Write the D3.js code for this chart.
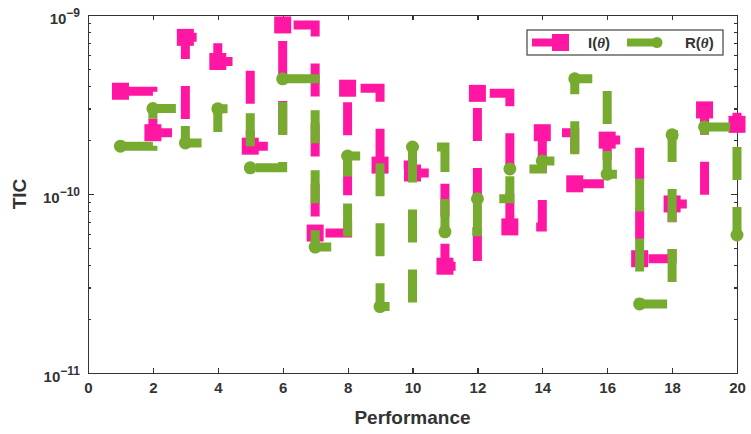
<!DOCTYPE html>
<html>
<meta charset="utf-8">
<title>TIC vs Performance</title>
<style>
  html, body {
    margin: 0;
    padding: 0;
    background: #fff;
}

svg text {
    font-family: "Liberation Sans", Arial, sans-serif;
    font-weight: bold;
    fill: #333;
}

.axis path, .axis line {
    stroke: #333;
    stroke-width: 1.2;
    shape-rendering: crispEdges;
}

.series {
    fill: none;
    stroke-width: 9;
    stroke-dasharray: 33, 27;
    stroke-linecap: butt;
    stroke-linejoin: miter;
}
</style>

<body>
    <div id="chart"></div>
    <script src="https://cdn.jsdelivr.net/npm/d3@7"></script>
    <script>
    // values
    var performance = [1, 2, 3, 4, 5, 6, 7, 8, 9, 10, 11, 12, 13, 14, 15, 16, 17, 18, 19, 20];
    var iTheta = [3.75e-10, 2.2e-10, 7.5e-10, 5.5e-10, 1.85e-10, 8.8e-10, 6.05e-11, 3.9e-10, 1.45e-10, 1.31e-10,
                  3.95e-11, 3.65e-10, 6.55e-11, 2.2e-10, 1.14e-10, 2.0e-10, 4.35e-11, 8.8e-11, 2.95e-10, 2.45e-10];
    var rTheta = [1.85e-10, 3.0e-10, 1.93e-10, 2.99e-10, 1.4e-10, 4.4e-10, 5.05e-11, 1.63e-10, 2.35e-11, 1.83e-10,
                  6.15e-11, 9.4e-11, 1.38e-10, 1.53e-10, 4.4e-10, 1.29e-10, 2.43e-11, 2.14e-10, 2.37e-10, 5.9e-11];
    var xTicks = [0, 2, 4, 6, 8, 10, 12, 14, 16, 18, 20];
    var yMajor = [1e-11, 1e-10, 1e-9];
    var yLabels = ["-11", "-10", "-9"];

    var pink = "#ff17a3",
        green = "#77ab30";

    var width = 751,
        height = 434;
    var margin = {top: 15, right: 14, bottom: 61, left: 88};
    var innerW = width - margin.left - margin.right,
        innerH = height - margin.top - margin.bottom;

    var svg = d3.select("#chart").append("svg")
        .attr("width", width)
        .attr("height", height);

    var g = svg.append("g")
        .attr("transform", "translate(" + margin.left + "," + margin.top + ")");

    var x = d3.scaleLinear().domain([0, 20]).range([0, innerW]);
    var y = d3.scaleLog().domain([1e-11, 1e-9]).range([innerH, 0]);

    var yMinor = [];
    [1e-11, 1e-10].forEach(function(d) {
        for (var k = 2; k < 10; k++) yMinor.push(d * k);
    });

    // axes (box, ticks inward)
    g.append("g").attr("class", "axis")
        .attr("transform", "translate(0," + innerH + ")")
        .call(d3.axisBottom(x).tickValues(xTicks).tickSizeInner(-5).tickSizeOuter(0).tickPadding(9))
        .selectAll("text").style("font-size", "15px").attr("fill", "#333");

    g.append("g").attr("class", "axis")
        .call(d3.axisTop(x).tickValues(xTicks).tickSizeInner(-5).tickSizeOuter(0).tickFormat(""));

    g.append("g").attr("class", "axis")
        .call(d3.axisLeft(y).tickValues(yMajor).tickSizeInner(-6).tickSizeOuter(0).tickFormat(""));
    g.append("g").attr("class", "axis")
        .call(d3.axisLeft(y).tickValues(yMinor).tickSizeInner(-3).tickSizeOuter(0).tickFormat(""))
        .select(".domain").remove();

    g.append("g").attr("class", "axis")
        .attr("transform", "translate(" + innerW + ",0)")
        .call(d3.axisRight(y).tickValues(yMajor).tickSizeInner(-6).tickSizeOuter(0).tickFormat(""));
    g.append("g").attr("class", "axis")
        .attr("transform", "translate(" + innerW + ",0)")
        .call(d3.axisRight(y).tickValues(yMinor).tickSizeInner(-3).tickSizeOuter(0).tickFormat(""))
        .select(".domain").remove();

    // y tick labels 10^n
    var ylab = g.append("g").selectAll("text")
        .data(yMajor)
        .enter().append("text")
        .attr("x", -8)
        .attr("y", function(d) { return y(d) + 9; })
        .attr("text-anchor", "end")
        .style("font-size", "15px");
    ylab.append("tspan").text("10");
    ylab.append("tspan")
        .attr("dy", -7)
        .style("font-size", "12px")
        .text(function(d, i) { return yLabels[i].replace("-", "\u2212"); });

    // axis titles
    svg.append("text")
        .attr("x", margin.left + innerW / 2)
        .attr("y", 424)
        .attr("text-anchor", "middle")
        .style("font-size", "19px")
        .text("Performance");

    svg.append("text")
        .attr("transform", "translate(26,194) rotate(-90)")
        .attr("text-anchor", "middle")
        .style("font-size", "19px")
        .text("TIC");

    // series
    var line = d3.line()
        .x(function(d) { return x(d[0]); })
        .y(function(d) { return y(d[1]); })
        .curve(d3.curveStepAfter);

    var iData = d3.zip(performance, iTheta),
        rData = d3.zip(performance, rTheta);

    g.append("path")
        .attr("class", "series")
        .attr("stroke", pink)
        .attr("d", line(iData));

    g.append("g").selectAll("rect")
        .data(iData)
        .enter().append("rect")
        .attr("x", function(d) { return x(d[0]) - 8.5; })
        .attr("y", function(d) { return y(d[1]) - 8.5; })
        .attr("width", 17)
        .attr("height", 17)
        .attr("fill", pink);

    g.append("path")
        .attr("class", "series")
        .attr("stroke", green)
        .attr("d", line(rData));

    g.append("g").selectAll("circle")
        .data(rData)
        .enter().append("circle")
        .attr("cx", function(d) { return x(d[0]); })
        .attr("cy", function(d) { return y(d[1]); })
        .attr("r", 6.5)
        .attr("fill", green);

    // legend
    var leg = svg.append("g").attr("transform", "translate(527,30)");
    leg.append("rect")
        .attr("width", 196)
        .attr("height", 25)
        .attr("fill", "#fff")
        .attr("stroke", "#444")
        .attr("stroke-width", 1.2);

    leg.append("line")
        .attr("x1", 5).attr("x2", 28).attr("y1", 12.5).attr("y2", 12.5)
        .attr("stroke", pink).attr("stroke-width", 8);
    leg.append("rect")
        .attr("x", 25).attr("y", 4).attr("width", 17).attr("height", 17)
        .attr("fill", pink);
    var t1 = leg.append("text").attr("x", 61).attr("y", 18).style("font-size", "15px");
    t1.append("tspan").text("I(");
    t1.append("tspan").style("font-style", "italic").style("font-family", "'Liberation Serif', serif").text("\u03b8");
    t1.append("tspan").text(")");

    leg.append("line")
        .attr("x1", 100).attr("x2", 130).attr("y1", 12.5).attr("y2", 12.5)
        .attr("stroke", green).attr("stroke-width", 8);
    leg.append("circle")
        .attr("cx", 130).attr("cy", 12.5).attr("r", 5.5)
        .attr("fill", green);
    var t2 = leg.append("text").attr("x", 158).attr("y", 18).style("font-size", "15px");
    t2.append("tspan").text("R(");
    t2.append("tspan").style("font-style", "italic").style("font-family", "'Liberation Serif', serif").text("\u03b8");
    t2.append("tspan").text(")");
    </script>
</body>
</html>
